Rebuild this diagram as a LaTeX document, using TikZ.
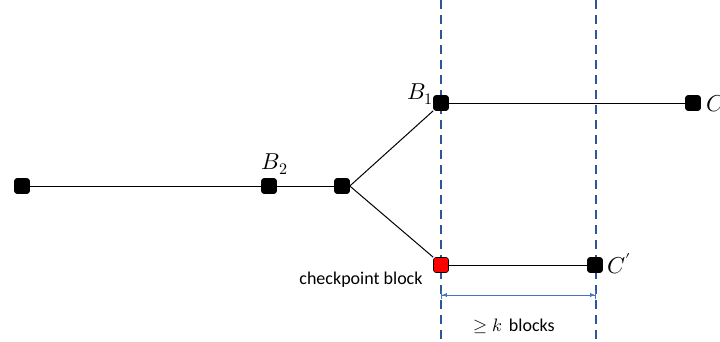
\documentclass[tikz,border=0pt]{standalone}
\usepackage{fontspec}
\setmainfont{Carlito}
\usepackage{unicode-math}
\setmathfont{Latin Modern Math}
\usetikzlibrary{arrows.meta}
\definecolor{dashblue}{HTML}{2F5597}
\definecolor{arrblue}{HTML}{4472C4}
\tikzset{
  blk/.style={draw=black, fill=black, minimum size=15pt, inner sep=0pt, rounded corners=2.5pt, line width=0.6pt},
  redblk/.style={blk, fill=red},
  edge/.style={line width=1pt},
  vdash/.style={dashblue, line width=1.8pt, dash pattern=on 9pt off 6pt},
  lab/.style={font=\fontsize{23}{26}\selectfont, inner sep=1pt},
}
\begin{document}
\begin{tikzpicture}[x=1pt,y=-1pt]
\useasboundingbox (0,0) rectangle (720,341);
% dashed verticals
\coordinate (d1t) at (441,0); \coordinate (d1b) at (441,341);
\coordinate (d2t) at (596,0); \coordinate (d2b) at (596,341);
\draw[vdash] (d1t) -- (d1b);
\draw[vdash] (d2t) -- (d2b);
% blocks
\node[blk] (a) at (22,186) {};
\node[blk] (b2) at (269,186) {};
\node[blk] (j) at (342,186) {};
\node[blk] (b1) at (441,103) {};
\node[blk] (c) at (693,103) {};
\node[redblk] (cp) at (441,265) {};
\node[blk] (cpr) at (595,265) {};
% edges
\draw[edge] (a) -- (b2);
\draw[edge] (b2) -- (j);
\draw[edge] (j.east) -- (b1.south west);
\draw[edge] (j.east) -- (cp.north west);
\draw[edge] (b1) -- (c);
\draw[edge] (cp) -- (cpr);
% labels
\node[lab] at (275,164) {$B_2$};
\node[lab] at (420,94) {$B_1$};
\node[lab, anchor=west] at (705,104) {$C$};
\node[lab, anchor=west] at (606,264) {$C'$};
\node[font=\fontsize{18}{20}\selectfont] at (361,280) {checkpoint block};
% measure arrow
\coordinate (m1) at (441,295); \coordinate (m2) at (596,295);
\draw[arrblue, line width=0.8pt, {Bar[width=8pt]Latex[length=5pt,width=4pt]}-{Latex[length=5pt,width=4pt]Bar[width=8pt]}] (m1) -- (m2);
\node[font=\fontsize{18}{20}\selectfont] at (514,326) {$\geq k$\, blocks};
\end{tikzpicture}
\end{document}
